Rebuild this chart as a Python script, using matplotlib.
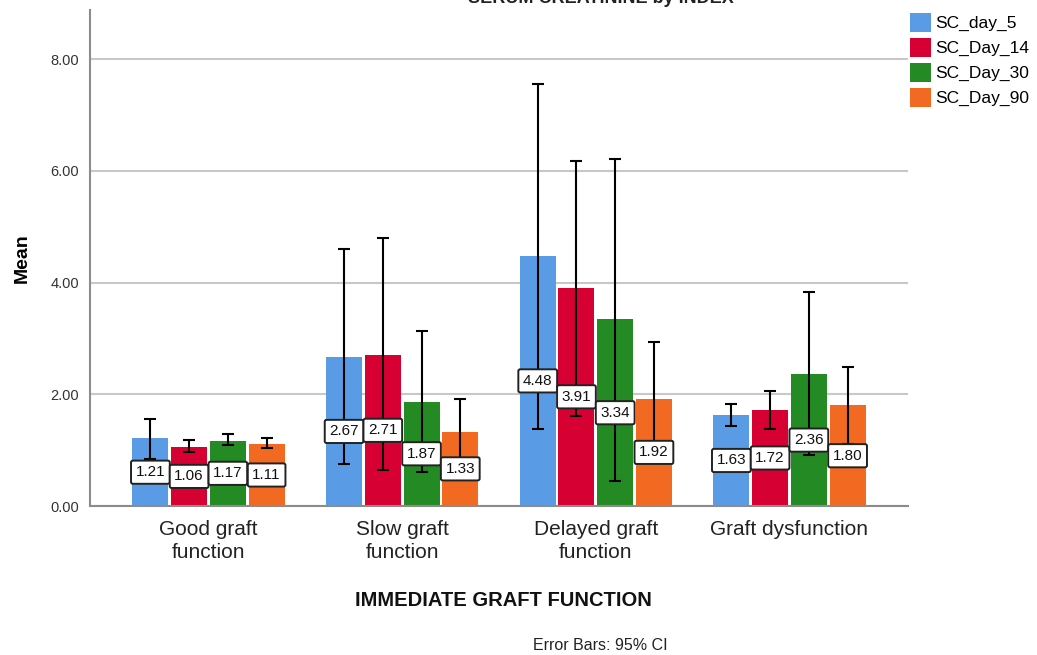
import numpy as np
import matplotlib.pyplot as plt
from matplotlib.patches import Patch

plt.rcParams['font.family'] = ['Liberation Sans', 'DejaVu Sans']

groups = ['Good graft\nfunction', 'Slow graft\nfunction', 'Delayed graft\nfunction', 'Graft dysfunction']
series = ['SC_day_5', 'SC_Day_14', 'SC_Day_30', 'SC_Day_90']
colors = ['#5A9BE6', '#D70032', '#248A24', '#F26A22']

# means per series (rows) for each group (columns)
means = np.array([
    [1.21, 2.67, 4.48, 1.63],
    [1.06, 2.71, 3.91, 1.72],
    [1.17, 1.87, 3.34, 2.36],
    [1.11, 1.33, 1.92, 1.80],
])
# 95% CI bounds
ci_low = np.array([
    [0.85, 0.75, 1.38, 1.43],
    [0.97, 0.64, 1.62, 1.38],
    [1.09, 0.61, 0.45, 0.91],
    [1.03, 0.73, 0.90, 1.11],
])
ci_high = np.array([
    [1.55, 4.60, 7.56, 1.82],
    [1.18, 4.79, 6.18, 2.06],
    [1.29, 3.13, 6.22, 3.83],
    [1.21, 1.92, 2.94, 2.49],
])

fig = plt.figure(figsize=(10.37, 6.55), dpi=100)
ax = fig.add_axes([90 / 1037, 149 / 655, 818 / 1037, 496 / 655])

x = np.arange(len(groups))
step = 0.2
width = 0.186
for i, (name, col) in enumerate(zip(series, colors)):
    pos = x + (i - 1.5) * step
    ax.bar(pos, means[i], width=width, color=col, zorder=2)
    err = np.vstack([means[i] - ci_low[i], ci_high[i] - means[i]])
    ax.errorbar(pos, means[i], yerr=err, fmt='none', ecolor='black',
                elinewidth=1.5, capsize=4.5, capthick=1.5, zorder=3)
    for p, m in zip(pos, means[i]):
        ax.text(p, m / 2, f'{m:.2f}', ha='center', va='center', fontsize=11,
                color='#111111', zorder=4,
                bbox=dict(boxstyle='round,pad=0.3,rounding_size=0.12',
                          fc='white', ec='#222222', lw=1.4))

ax.set_xlim(-0.612, 3.612)
ax.set_ylim(0, 8.88)
ax.set_yticks([0, 2, 4, 6, 8])
ax.set_yticklabels([f'{v:.2f}' for v in [0, 2, 4, 6, 8]], fontsize=10.5, color='#333333')
ax.set_xticks(x)
ax.set_xticklabels(groups, fontsize=15, color='#222222', linespacing=1.25)
ax.tick_params(axis='y', length=0, pad=8)
ax.tick_params(axis='x', length=0, pad=10)
ax.grid(axis='y', color='#C8C8C8', lw=1.5, zorder=0)
ax.set_axisbelow(True)
for s in ['top', 'right']:
    ax.spines[s].set_visible(False)
for s in ['left', 'bottom']:
    ax.spines[s].set_color('#8C8C8C')
    ax.spines[s].set_linewidth(1.5)

ax.set_ylabel('Mean', fontsize=14, fontweight='bold', labelpad=14)
fig.text(503 / 1037, 1 - 600 / 655, 'IMMEDIATE GRAFT FUNCTION', ha='center', va='center',
         fontsize=14.5, fontweight='bold', color='#111111')
fig.text(600 / 1037, 1 - 645 / 655, 'Error Bars: 95% CI', ha='center', va='center',
         fontsize=11.5, color='#222222')
fig.text(601 / 1037, 1 - 3 / 655, 'SERUM CREATININE by INDEX', ha='center', va='baseline',
         fontsize=13, fontweight='bold', color='#222222')

handles = [Patch(facecolor=c, edgecolor='none') for c in colors]
fig.legend(handles, series, loc='upper left', bbox_to_anchor=(910 / 1037, 1 - 13 / 655),
           frameon=False, fontsize=12.5, handlelength=1.2, handleheight=1.3,
           handletextpad=0.25, labelspacing=0.35, borderaxespad=0, borderpad=0)

fig.savefig('out.png', dpi=100)
